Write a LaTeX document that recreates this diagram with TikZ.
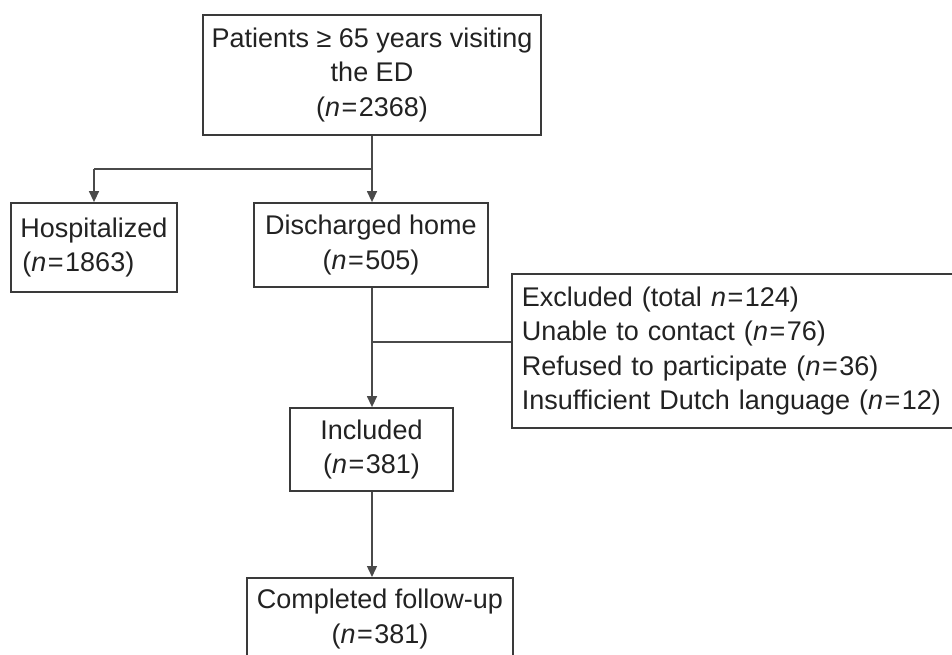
\documentclass[tikz,border=0pt]{standalone}
\usepackage{fontspec}
\setmainfont{Liberation Sans}
\usetikzlibrary{arrows.meta}
\definecolor{boxline}{HTML}{3A3A3A}
\definecolor{conline}{HTML}{4A4A4A}
\definecolor{txt}{HTML}{222222}
\newcommand{\nn}{\textit{n}\kern1.5pt=\kern1.5pt}
\tikzset{
  box/.style={draw=boxline, line width=1.8pt, rectangle, inner sep=0pt, text=txt,
    font=\fontsize{27}{34.5}\selectfont},
  conn/.style={draw=conline, line width=1.4pt},
  arr/.style={conn, -{Triangle[length=11pt,width=10pt]}},
}
\begin{document}
\begin{tikzpicture}[x=1pt,y=-1pt]
\useasboundingbox (0,0) rectangle (952,655);
\node[box, minimum width=338pt, minimum height=120pt, align=center] (top) at (372,75)
  {Patients ≥ 65 years visiting\\the ED\\(\nn2368)};
\node[box, minimum width=166pt, minimum height=89pt, align=left] (hosp) at (94,247.5)
  {Hospitalized\\\kern2pt(\nn1863)};
\node[box, minimum width=234pt, minimum height=84pt, align=center] (disch) at (371,245)
  {Discharged home\\(\nn505)};
\node[box, minimum width=460pt, minimum height=154pt, anchor=west, inner xsep=10pt,
      text width=440pt, align=left] (excl) at (511,351)
  {Excluded (total \nn124)\\Unable to contact (\nn76)\\Refused to participate (\nn36)\\Insufficient Dutch language (\nn12)};
\node[box, minimum width=163pt, minimum height=83pt, align=center] (incl) at (371.5,449.5)
  {Included\\(\nn381)};
\node[box, minimum width=266pt, minimum height=82pt, anchor=north, align=center] (comp) at (380,577)
  {Completed follow-up\\(\nn381)};
\coordinate (j1) at (372,169);
\coordinate (j1l) at (94,169);
\coordinate (j2) at (372,342);
\coordinate (j3) at (372,491);
\draw[conn] (top.south) -- (j1);
\draw[arr] (j1) -- (j1 |- disch.north);
\draw[conn] (j1) -- (j1l);
\draw[arr] (j1l) -- (hosp.north);
\draw[arr] (j1 |- disch.south) -- (j1 |- incl.north);
\draw[conn] (j2) -- (excl.west |- j2);
\draw[arr] (j1 |- incl.south) -- (j1 |- comp.north);
\end{tikzpicture}
\end{document}
